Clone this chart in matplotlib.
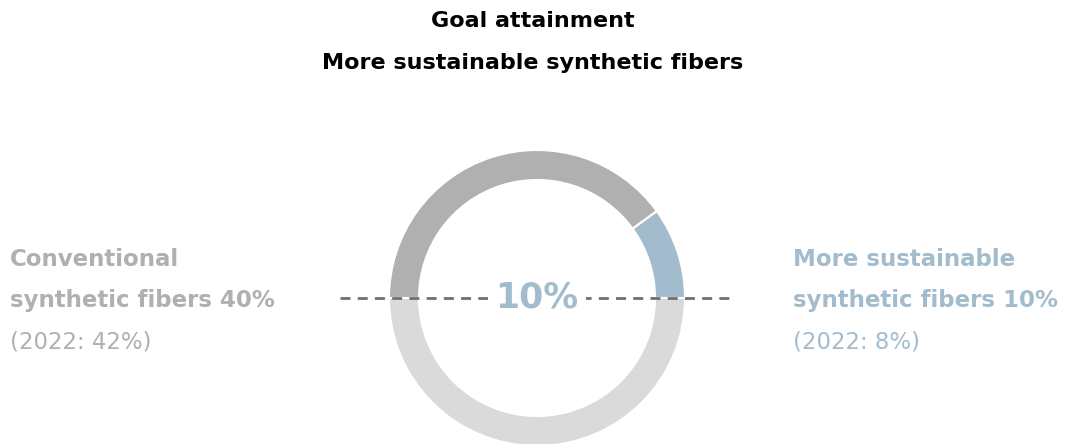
import numpy as np
import matplotlib.pyplot as plt

# Share of synthetic fibers (top half of the ring = 100 %)
segments = ['More sustainable', 'Conventional']
shares = [10, 40]
prev_year = [8, 42]
colors = ['#a3bccd', '#b0b0b0']
rest_color = '#dadada'

title = 'Goal attainment\nMore sustainable synthetic fibers'

W, H = 1065, 444
plt.rcParams['font.family'] = ['DejaVu Sans']

fig = plt.figure(figsize=(W / 100, H / 100), dpi=100)
ax = fig.add_axes([0, 0, 1, 1])

cx, cy = 537, H - 298
r = 148

# half ring for the shares, the lower half is a plain filler
vals = shares + [sum(shares)]
ax.pie(vals, colors=colors + [rest_color], startangle=0, counterclock=True,
       center=(cx, cy), radius=r, frame=True,
       wedgeprops=dict(width=30, edgecolor='white', linewidth=1.5))
ax.set_xlim(0, W)
ax.set_ylim(0, H)
ax.set_aspect('equal')
ax.axis('off')

# dashed baseline through the middle
ax.plot([340, 735], [cy, cy], color='#707070', lw=2, dashes=(3.6, 2.6), zorder=5)
ax.text(cx, cy, f'{shares[0]}%', ha='center', va='center', fontsize=25,
        fontweight='bold', color=colors[0], zorder=6,
        bbox=dict(facecolor='white', edgecolor='none', pad=5))

lines = title.split('\n')
fig.text(0.5, 1 - 21 / H, lines[0], ha='center', va='center',
         fontsize=16, fontweight='bold', color='black')
fig.text(0.5, 1 - 63 / H, lines[1], ha='center', va='center',
         fontsize=16, fontweight='bold', color='black')

# side labels
def side_label(x, name, share, prev, color):
    ax.text(x, H - 259, name, ha='left', va='center', fontsize=16.5,
            fontweight='bold', color=color)
    ax.text(x, H - 300, f'synthetic fibers {share}%', ha='left', va='center',
            fontsize=16.5, fontweight='bold', color=color)
    ax.text(x, H - 342, f'(2022: {prev}%)', ha='left', va='center',
            fontsize=16.5, color=color)

side_label(10, segments[1], shares[1], prev_year[1], colors[1])
side_label(793, segments[0], shares[0], prev_year[0], colors[0])

fig.savefig('out.png', dpi=100, facecolor='white')
